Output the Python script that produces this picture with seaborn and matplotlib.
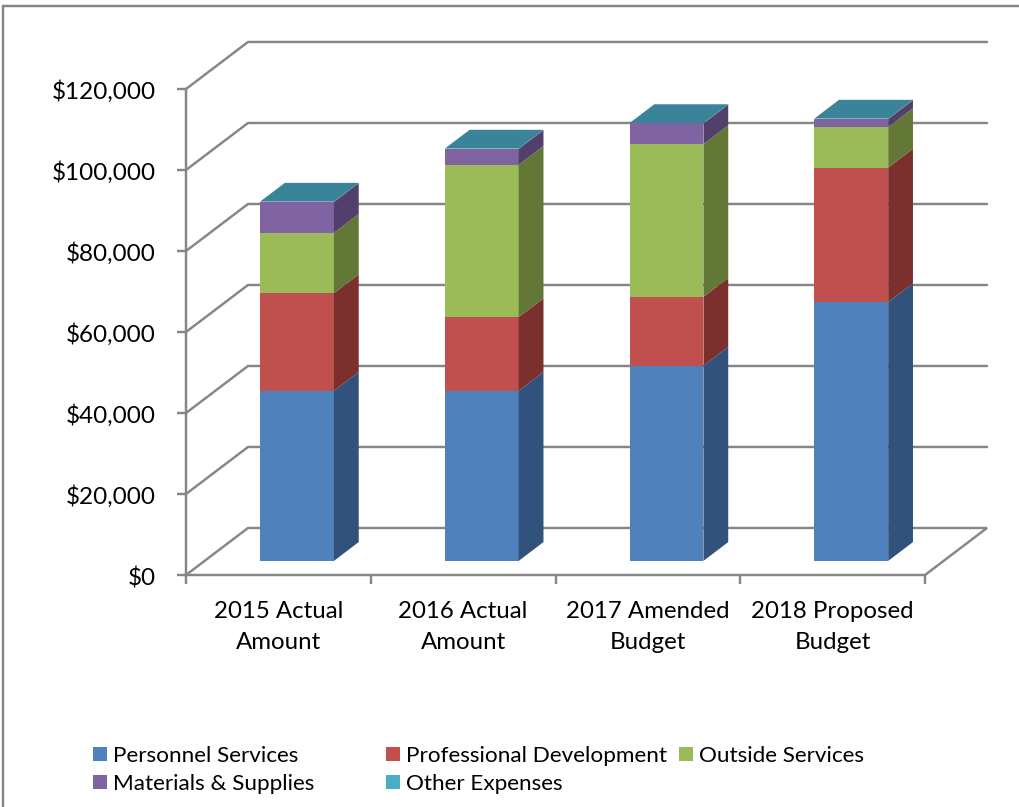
import numpy as np
import matplotlib
matplotlib.use("Agg")
import matplotlib.pyplot as plt
from matplotlib.patches import Patch, Rectangle
from matplotlib.ticker import FixedLocator, NullFormatter, FuncFormatter
from matplotlib.transforms import Affine2D
import seaborn as sns

# Budget figures by fiscal period
periods = ["2015 Actual\nAmount", "2016 Actual\nAmount", "2017 Amended\nBudget", "2018 Proposed\nBudget"]
personnel = [42000, 42000, 48200, 63900]
professional = [24100, 18200, 17000, 33200]
outside = [14900, 37600, 37700, 10000]
materials = [7600, 3900, 5100, 2000]
other = [100, 100, 100, 100]

series_names = ["Personnel Services", "Professional Development", "Outside Services",
                "Materials & Supplies", "Other Expenses"]
series_values = [personnel, professional, outside, materials, other]
front_colors = ["#4F81BD", "#C0504D", "#9BBB59", "#8064A2", "#4BACC6"]
side_colors = ["#31527A", "#7B302E", "#637837", "#533F6C", "#533F6C"]
top_color = "#3A8499"
grid_color = "#868686"

W, H, DPI = 1019, 807, 100
LINE = 1.75  # line width in points
FONT = ["Lato", "DejaVu Sans"]

# Oblique projection: one full unit of depth expressed in axis units
DEPTH_X = 62 / 184.75
DEPTH_Y = 11610.0
BAR_NEAR = 0.30
BAR_FAR = 0.70
BAR_WIDTH = 0.4


def project(x, y, d):
    return x + d * DEPTH_X, y + d * DEPTH_Y


sns.set_theme(style="white")
plt.rcParams["font.family"] = FONT

fig = plt.figure(figsize=(W / DPI, H / DPI), dpi=DPI, facecolor="white")
ax = fig.add_axes([186 / W, 1 - 575 / H, (925 - 186) / W, (575 - 89) / H])
ax.patch.set_alpha(0)

xmin, xmax = -0.5, 3.5
yticks = np.arange(0, 120001, 20000)

# Back wall gridlines with their diagonal returns to the value axis
for v in yticks:
    x0, y0 = project(xmin, v, 0)
    x1, y1 = project(xmin, v, 1)
    x2, y2 = project(xmax, v, 1)
    xs, ys = [x0, x1, x2], [y0, y1, y2]
    if v == 0:
        x3, y3 = project(xmax, v, 0)
        xs.append(x3)
        ys.append(y3)
    ax.plot(xs, ys, color=grid_color, lw=LINE, clip_on=False, zorder=1, solid_joinstyle="miter")

# Stacked front faces
positions = np.arange(len(periods)) + BAR_NEAR * DEPTH_X
lift = BAR_NEAR * DEPTH_Y
bottom = np.zeros(len(periods))
for values, front in zip(series_values, front_colors):
    values = np.asarray(values, dtype=float)
    sns.barplot(x=positions, y=values, bottom=bottom + lift, native_scale=True,
                color=front, saturation=1, width=BAR_WIDTH, errorbar=None,
                linewidth=0, ax=ax, zorder=3, clip_on=False)
    bottom = bottom + values

# Side faces and the cap of every column
half = BAR_WIDTH / 2
bottom = np.zeros(len(periods))
for values, side in zip(series_values, side_colors):
    values = np.asarray(values, dtype=float)
    for i, (b, h) in enumerate(zip(bottom, values)):
        r = i + half
        corners = [project(r, b, BAR_NEAR), project(r, b, BAR_FAR),
                   project(r, b + h, BAR_FAR), project(r, b + h, BAR_NEAR)]
        ax.fill(*zip(*corners), color=side, lw=0, clip_on=False, zorder=3)
    bottom = bottom + values

for i, total in enumerate(bottom):
    l, r = i - half, i + half
    corners = [project(l, total, BAR_NEAR), project(r, total, BAR_NEAR),
               project(r, total, BAR_FAR), project(l, total, BAR_FAR)]
    ax.fill(*zip(*corners), color=top_color, lw=0, clip_on=False, zorder=3)

# Axes, ticks and labels
ax.set_xlim(xmin, xmax)
ax.set_ylim(0, 120000)
ax.set_xlabel("")
ax.set_ylabel("")
sns.despine(ax=ax, top=True, right=True)
for name in ("left", "bottom"):
    ax.spines[name].set_color(grid_color)
    ax.spines[name].set_linewidth(LINE)

ax.set_yticks(yticks)
ax.yaxis.set_major_formatter(FuncFormatter(lambda v, _: f"${v:,.0f}"))
ax.tick_params(axis="y", left=True, length=6.5, width=LINE, color=grid_color, pad=15.3,
               labelsize=17.5, labelcolor="black")
for label in ax.get_yticklabels():
    label.set_transform(label.get_transform() + Affine2D().translate(0, -1))

ax.xaxis.set_major_locator(FixedLocator(np.arange(xmin, xmax + 0.5)))
ax.xaxis.set_major_formatter(NullFormatter())
ax.xaxis.set_minor_locator(FixedLocator(np.arange(len(periods))))
ax.set_xticklabels(periods, minor=True, linespacing=1.62)
ax.tick_params(axis="x", which="major", bottom=True, length=6.5, width=LINE, color=grid_color)
ax.tick_params(axis="x", which="minor", bottom=False, length=0, pad=18.4,
               labelsize=17.3, labelcolor="black")

# Legend: three independently placed columns
columns = [([0, 3], 93), ([1, 4], 386), ([2], 679)]
for idx, left in columns:
    handles = [Patch(facecolor=front_colors[k], edgecolor="none", label=series_names[k]) for k in idx]
    leg = fig.legend(handles=handles, loc="upper left",
                     bbox_to_anchor=(left / W, 1 - 746 / H), frameon=False,
                     fontsize=16.2, handlelength=0.62, handleheight=0.62, handletextpad=0.26,
                     labelspacing=0.36, borderpad=0, borderaxespad=0, labelcolor="black")

# Chart-area frame
fig.add_artist(Rectangle((3 / W, -0.05), 1.1, 1 - 6 / H + 0.05, transform=fig.transFigure,
                         fill=False, edgecolor=grid_color, lw=LINE))

fig.savefig("out.png", dpi=DPI, facecolor="white")
